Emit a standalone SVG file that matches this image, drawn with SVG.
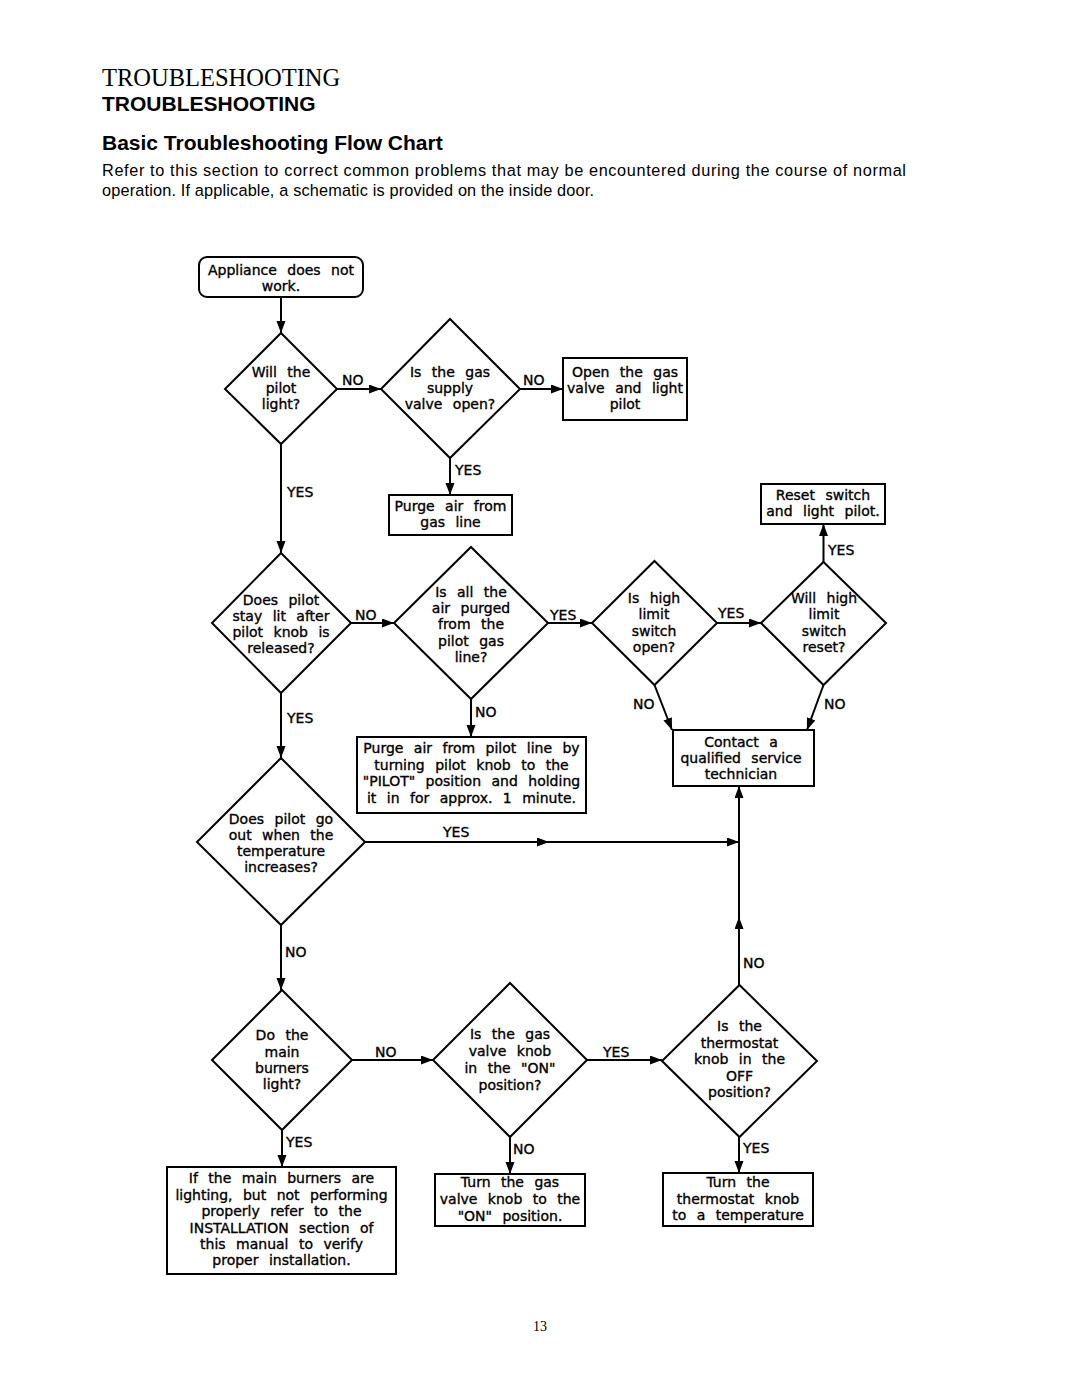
<svg xmlns="http://www.w3.org/2000/svg" width="1080" height="1397" viewBox="0 0 1080 1397">
<style>
.bg{fill:#fff}
.shape{fill:#fff;stroke:#000;stroke-width:2}
.t{font-family:"DejaVu Sans",sans-serif;font-size:14px;word-spacing:6px;fill:#000;stroke:#000;stroke-width:0.35;text-anchor:middle}
.l{font-family:"DejaVu Sans",sans-serif;font-size:14px;fill:#000;stroke:#000;stroke-width:0.35}
.c{fill:none;stroke:#000;stroke-width:2;marker-end:url(#ah)}
.h1{font-family:"Liberation Serif",serif;font-size:24.5px;fill:#000}
.h2{font-family:"Liberation Sans",sans-serif;font-size:21px;font-weight:bold;fill:#000}
.p{font-family:"Liberation Sans",sans-serif;font-size:16.3px;fill:#000}
</style>
<defs>
<marker id="ah" markerUnits="userSpaceOnUse" markerWidth="12" markerHeight="10" refX="12" refY="4.5" orient="auto">
<path d="M0,0 L12,4.5 L0,9 z" fill="#000"/>
</marker>
</defs>
<rect class="bg" x="0" y="0" width="1080" height="1397"/>
<g id="header">
<text class="h1" x="102" y="86">TROUBLESHOOTING</text>
<text class="h2" x="102" y="111">TROUBLESHOOTING</text>
<text class="h2" x="102" y="150">Basic Troubleshooting Flow Chart</text>
<text class="p" x="102" y="176" textLength="804" lengthAdjust="spacing">Refer to this section to correct common problems that may be encountered during the course of normal</text>
<text class="p" x="102" y="196" textLength="492" lengthAdjust="spacing">operation. If applicable, a schematic is provided on the inside door.</text>
</g>
<g id="connectors">
<path class="c" d="M281,297 V333"/>
<path class="c" d="M337,389 H381"/>
<path class="c" d="M520,389 H563"/>
<path class="c" d="M450,458 V495"/>
<path class="c" d="M281,444 V553"/>
<path class="c" d="M351,623 H394"/>
<path class="c" d="M548,623 H592"/>
<path class="c" d="M471,699 V737"/>
<path class="c" d="M281,693 V758"/>
<path class="c" d="M717,623 H761"/>
<path class="c" d="M823.5,562 V524"/>
<path class="c" d="M654.5,685 L672,730"/>
<path class="c" d="M823.5,685 L807,730"/>
<path class="c" d="M365,842 H549"/>
<path class="c" d="M549,842 H739"/>
<path class="c" d="M739,985 V917"/>
<path class="c" d="M739,917 V786"/>
<path class="c" d="M281,925 V990"/>
<path class="c" d="M352,1060 H433"/>
<path class="c" d="M587,1060 H662"/>
<path class="c" d="M282,1130 V1167"/>
<path class="c" d="M510,1137 V1174"/>
<path class="c" d="M739,1137 V1173"/>
<text class="l" x="342" y="385">NO</text>
<text class="l" x="523" y="385">NO</text>
<text class="l" x="455" y="475">YES</text>
<text class="l" x="287" y="497">YES</text>
<text class="l" x="355" y="620">NO</text>
<text class="l" x="550" y="620">YES</text>
<text class="l" x="475" y="717">NO</text>
<text class="l" x="287" y="723">YES</text>
<text class="l" x="718" y="618">YES</text>
<text class="l" x="828" y="555">YES</text>
<text class="l" x="633" y="709">NO</text>
<text class="l" x="824" y="709">NO</text>
<text class="l" x="443" y="837">YES</text>
<text class="l" x="743" y="968">NO</text>
<text class="l" x="285" y="957">NO</text>
<text class="l" x="375" y="1057">NO</text>
<text class="l" x="603" y="1057">YES</text>
<text class="l" x="286" y="1147">YES</text>
<text class="l" x="513" y="1154">NO</text>
<text class="l" x="743" y="1153">YES</text>
</g>
<g id="n-start">
<rect class="shape" x="199" y="257" width="164" height="40" rx="8"/>
<text class="t"><tspan x="281" y="275">Appliance does not</tspan><tspan x="281" y="291">work.</tspan></text>
</g>
<g id="n-pilot-light">
<polygon class="shape" points="281,333 337,389 281,444 225,389"/>
<text class="t"><tspan x="281" y="377">Will the</tspan><tspan x="281" y="393">pilot</tspan><tspan x="281" y="409">light?</tspan></text>
</g>
<g id="n-gas-supply">
<polygon class="shape" points="450,319 520,389 450,458 381,389"/>
<text class="t"><tspan x="450" y="377">Is the gas</tspan><tspan x="450" y="393">supply</tspan><tspan x="450" y="409">valve open?</tspan></text>
</g>
<g id="n-open-valve">
<rect class="shape" x="563" y="358" width="124" height="62"/>
<text class="t"><tspan x="625" y="377">Open the gas</tspan><tspan x="625" y="393">valve and light</tspan><tspan x="625" y="409">pilot</tspan></text>
</g>
<g id="n-purge-gas">
<rect class="shape" x="389" y="495" width="123" height="40"/>
<text class="t"><tspan x="450.5" y="511">Purge air from</tspan><tspan x="450.5" y="527">gas line</tspan></text>
</g>
<g id="n-stay-lit">
<polygon class="shape" points="281,553 351,623 281,693 212,623"/>
<text class="t"><tspan x="281" y="605">Does pilot</tspan><tspan x="281" y="621">stay lit after</tspan><tspan x="281" y="637">pilot knob is</tspan><tspan x="281" y="653">released?</tspan></text>
</g>
<g id="n-air-purged">
<polygon class="shape" points="471,547 548,623 471,699 394,623"/>
<text class="t"><tspan x="471" y="597">Is all the</tspan><tspan x="471" y="613">air purged</tspan><tspan x="471" y="629">from the</tspan><tspan x="471" y="646">pilot gas</tspan><tspan x="471" y="662">line?</tspan></text>
</g>
<g id="n-purge-pilot">
<rect class="shape" x="357" y="737" width="229" height="76"/>
<text class="t"><tspan x="471.5" y="753">Purge air from pilot line by</tspan><tspan x="471.5" y="770">turning pilot knob to the</tspan><tspan x="471.5" y="786">"PILOT" position and holding</tspan><tspan x="471.5" y="803">it in for approx. 1 minute.</tspan></text>
</g>
<g id="n-high-limit-open">
<polygon class="shape" points="654.5,561 717,623 654.5,685 592,623"/>
<text class="t"><tspan x="654" y="603">Is high</tspan><tspan x="654" y="619">limit</tspan><tspan x="654" y="636">switch</tspan><tspan x="654" y="652">open?</tspan></text>
</g>
<g id="n-high-limit-reset">
<polygon class="shape" points="823.5,562 886,623 823.5,685 761,623"/>
<text class="t"><tspan x="824" y="603">Will high</tspan><tspan x="824" y="619">limit</tspan><tspan x="824" y="636">switch</tspan><tspan x="824" y="652">reset?</tspan></text>
</g>
<g id="n-reset-switch">
<rect class="shape" x="761" y="484" width="124" height="40"/>
<text class="t"><tspan x="823" y="500">Reset switch</tspan><tspan x="823" y="516">and light pilot.</tspan></text>
</g>
<g id="n-contact">
<rect class="shape" x="673" y="730" width="141" height="56"/>
<text class="t"><tspan x="741" y="747">Contact a</tspan><tspan x="741" y="763">qualified service</tspan><tspan x="741" y="779">technician</tspan></text>
</g>
<g id="n-pilot-out">
<polygon class="shape" points="281,758 365,842 281,925 197,842"/>
<text class="t"><tspan x="281" y="824">Does pilot go</tspan><tspan x="281" y="840">out when the</tspan><tspan x="281" y="856">temperature</tspan><tspan x="281" y="872">increases?</tspan></text>
</g>
<g id="n-main-burners">
<polygon class="shape" points="282,990 352,1060 282,1130 212,1060"/>
<text class="t"><tspan x="282" y="1040">Do the</tspan><tspan x="282" y="1057">main</tspan><tspan x="282" y="1073">burners</tspan><tspan x="282" y="1089">light?</tspan></text>
</g>
<g id="n-valve-knob">
<polygon class="shape" points="510,983 587,1060 510,1137 433,1060"/>
<text class="t"><tspan x="510" y="1039">Is the gas</tspan><tspan x="510" y="1056">valve knob</tspan><tspan x="510" y="1073">in the "ON"</tspan><tspan x="510" y="1090">position?</tspan></text>
</g>
<g id="n-thermostat">
<polygon class="shape" points="739.5,985 817,1061 739.5,1137 662,1061"/>
<text class="t"><tspan x="739.5" y="1031">Is the</tspan><tspan x="739.5" y="1048">thermostat</tspan><tspan x="739.5" y="1064">knob in the</tspan><tspan x="739.5" y="1081">OFF</tspan><tspan x="739.5" y="1097">position?</tspan></text>
</g>
<g id="n-installation">
<rect class="shape" x="167" y="1167" width="229" height="107"/>
<text class="t"><tspan x="281.5" y="1183">If the main burners are</tspan><tspan x="281.5" y="1200">lighting, but not performing</tspan><tspan x="281.5" y="1216">properly refer to the</tspan><tspan x="281.5" y="1233">INSTALLATION section of</tspan><tspan x="281.5" y="1249">this manual to verify</tspan><tspan x="281.5" y="1265">proper installation.</tspan></text>
</g>
<g id="n-turn-valve">
<rect class="shape" x="435" y="1174" width="150" height="52"/>
<text class="t"><tspan x="510" y="1187">Turn the gas</tspan><tspan x="510" y="1204">valve knob to the</tspan><tspan x="510" y="1221">"ON" position.</tspan></text>
</g>
<g id="n-turn-thermostat">
<rect class="shape" x="663" y="1173" width="150" height="53"/>
<text class="t"><tspan x="738" y="1187">Turn the</tspan><tspan x="738" y="1204">thermostat knob</tspan><tspan x="738" y="1220">to a temperature</tspan></text>
</g>
<text x="540" y="1331" style="font-family:'Liberation Serif',serif;font-size:14px;text-anchor:middle">13</text>
</svg>
